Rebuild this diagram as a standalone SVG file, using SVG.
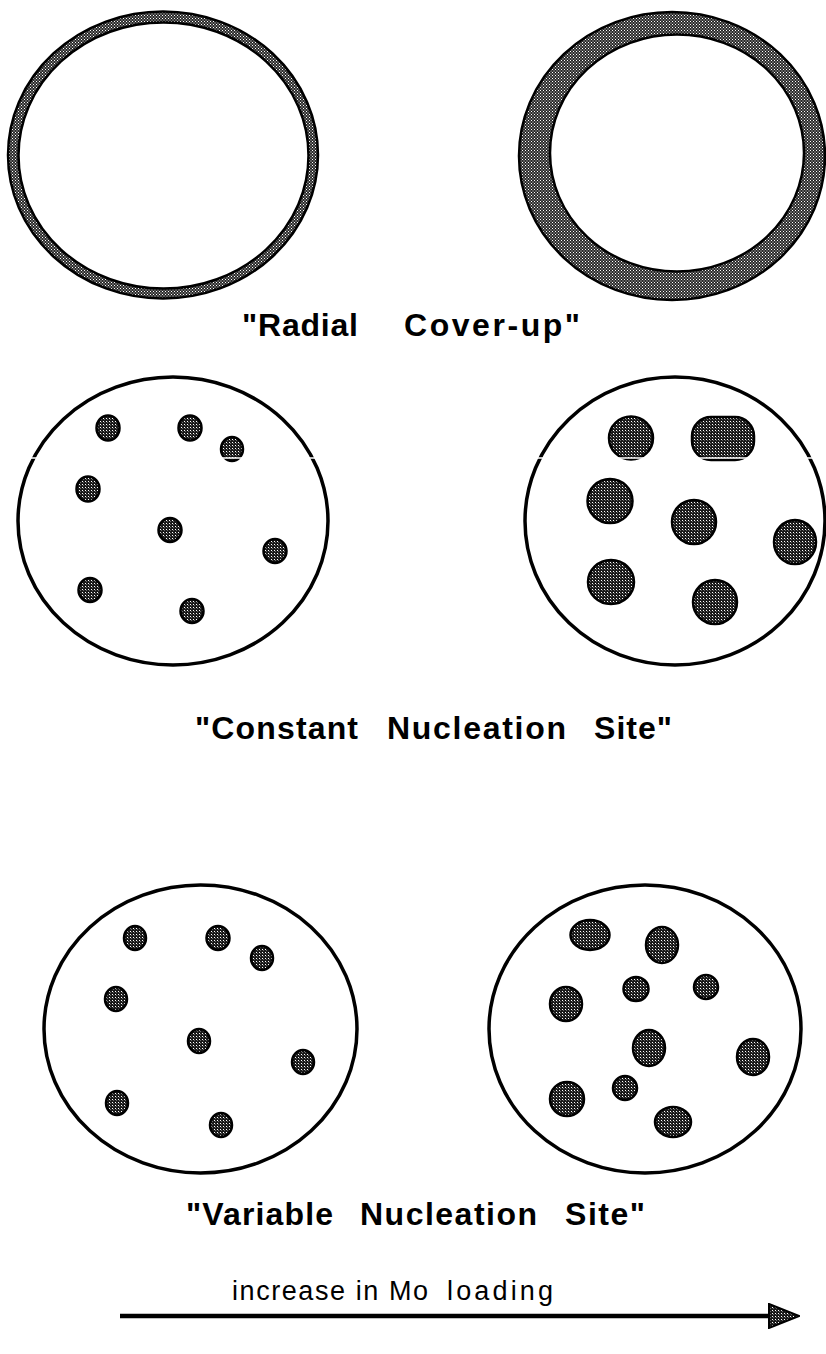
<svg xmlns="http://www.w3.org/2000/svg" width="826" height="1354" viewBox="0 0 826 1354">
<style>
.bg{fill:#ffffff}
.ring{fill:url(#ringfill);fill-rule:evenodd;stroke:#000;stroke-width:2.5}
.support{fill:none;stroke:#000;stroke-width:3.5}
.dot{fill:url(#dotfill);stroke:#000;stroke-width:2.5}
.title{font-family:"Liberation Sans",Arial,sans-serif;font-weight:bold;font-size:32px;fill:#000}
.axis{font-family:"Liberation Sans",Arial,sans-serif;font-size:27px;fill:#000}
.scan{stroke:#fff;stroke-width:1.5}
</style>
<defs>
<pattern id="ringfill" width="3" height="3" patternUnits="userSpaceOnUse">
<rect width="3" height="3" fill="#2a2a2a"/>
<rect x="0" y="0" width="1" height="1" fill="#fff"/>
<rect x="1.5" y="1.5" width="1" height="1" fill="#eee"/>
</pattern>
<pattern id="dotfill" width="3" height="3" patternUnits="userSpaceOnUse">
<rect width="3" height="3" fill="#1a1a1a"/>
<rect x="1" y="1" width="1" height="1" fill="#fff"/>
<rect x="2" y="2" width="1" height="1" fill="#666"/>
</pattern>
<marker id="arrowhead" markerWidth="32" markerHeight="26" refX="2" refY="13" orient="auto" markerUnits="userSpaceOnUse">
<path d="M1,1 L31,13 L1,25 Z" fill="url(#dotfill)" stroke="#000" stroke-width="2"/>
</marker>
</defs>
<rect class="bg" x="0" y="0" width="826" height="1354"/>

<g id="radial-low">
<path class="ring" d="M8,155 a155,143.5 0 1,0 310,0 a155,143.5 0 1,0 -310,0 Z M18.5,155.5 a145,133 0 1,0 290,0 a145,133 0 1,0 -290,0 Z"/>
</g>
<g id="radial-high">
<path class="ring" d="M519,156 a153,144 0 1,0 306,0 a153,144 0 1,0 -306,0 Z M550,153 a127,118.5 0 1,0 254,0 a127,118.5 0 1,0 -254,0 Z"/>
</g>
<g id="label-radial">
<text class="title" y="336"><tspan x="242" textLength="116" lengthAdjust="spacing">"Radial</tspan><tspan x="404" textLength="176" lengthAdjust="spacing">Cover-up"</tspan></text>
</g>

<g id="constant-low">
<ellipse class="support" cx="173" cy="521" rx="155" ry="144"/>
<ellipse class="dot" cx="108" cy="428" rx="11.5" ry="12.5"/>
<ellipse class="dot" cx="190" cy="428" rx="11.5" ry="12.5"/>
<ellipse class="dot" cx="232" cy="449" rx="11" ry="12"/>
<ellipse class="dot" cx="88" cy="489" rx="11.5" ry="12.5"/>
<ellipse class="dot" cx="170" cy="530" rx="11.5" ry="12"/>
<ellipse class="dot" cx="275" cy="551" rx="11.5" ry="12"/>
<ellipse class="dot" cx="90" cy="590" rx="11.5" ry="12"/>
<ellipse class="dot" cx="192" cy="611" rx="11.5" ry="12"/>
</g>
<g id="constant-high">
<ellipse class="support" cx="675" cy="521" rx="150" ry="144"/>
<ellipse class="dot" cx="631" cy="438" rx="22" ry="21.5"/>
<rect class="dot" x="692" y="417" width="62" height="43" rx="19" ry="19"/>
<ellipse class="dot" cx="610" cy="501" rx="22.5" ry="22"/>
<ellipse class="dot" cx="694" cy="522" rx="22" ry="22"/>
<ellipse class="dot" cx="795" cy="542" rx="21" ry="22"/>
<ellipse class="dot" cx="611" cy="582" rx="23" ry="22"/>
<ellipse class="dot" cx="715" cy="602" rx="22" ry="22"/>
</g>
<line class="scan" x1="20" y1="458" x2="826" y2="458"/>
<g id="label-constant">
<text class="title" y="739"><tspan x="195" textLength="163" lengthAdjust="spacing">"Constant</tspan><tspan x="387" textLength="179" lengthAdjust="spacing">Nucleation</tspan><tspan x="594" textLength="78" lengthAdjust="spacing">Site"</tspan></text>
</g>

<g id="variable-low">
<ellipse class="support" cx="200.5" cy="1029" rx="156.5" ry="144"/>
<ellipse class="dot" cx="135" cy="938" rx="11" ry="12"/>
<ellipse class="dot" cx="218" cy="938" rx="11.5" ry="12"/>
<ellipse class="dot" cx="262" cy="958" rx="11" ry="12"/>
<ellipse class="dot" cx="116" cy="999" rx="11" ry="12"/>
<ellipse class="dot" cx="199" cy="1041" rx="11" ry="12"/>
<ellipse class="dot" cx="303" cy="1062" rx="11" ry="12"/>
<ellipse class="dot" cx="117" cy="1103" rx="11" ry="12"/>
<ellipse class="dot" cx="221" cy="1125" rx="11" ry="12"/>
</g>
<g id="variable-high">
<ellipse class="support" cx="645" cy="1029" rx="156" ry="144"/>
<ellipse class="dot" cx="590" cy="935" rx="19.5" ry="15"/>
<ellipse class="dot" cx="662" cy="945" rx="16" ry="18"/>
<ellipse class="dot" cx="636" cy="989" rx="12.5" ry="12"/>
<ellipse class="dot" cx="706" cy="987" rx="12" ry="12"/>
<ellipse class="dot" cx="566" cy="1004" rx="16" ry="17"/>
<ellipse class="dot" cx="649" cy="1048" rx="16" ry="18"/>
<ellipse class="dot" cx="753" cy="1057" rx="16" ry="18"/>
<ellipse class="dot" cx="625" cy="1088" rx="12" ry="12"/>
<ellipse class="dot" cx="567" cy="1099" rx="17" ry="17"/>
<ellipse class="dot" cx="673" cy="1122" rx="18" ry="15"/>
</g>
<g id="label-variable">
<text class="title" y="1225"><tspan x="186" textLength="147" lengthAdjust="spacing">"Variable</tspan><tspan x="360" textLength="177" lengthAdjust="spacing">Nucleation</tspan><tspan x="565" textLength="80" lengthAdjust="spacing">Site"</tspan></text>
</g>

<g id="connectors">
<line x1="120" y1="1316" x2="770" y2="1316" stroke="#000" stroke-width="4.5" marker-end="url(#arrowhead)"/>
</g>
<g id="label-axis">
<text class="axis" y="1300"><tspan x="232" textLength="196" lengthAdjust="spacing">increase in Mo</tspan><tspan x="447" textLength="106" lengthAdjust="spacing">loading</tspan></text>
</g>
</svg>
